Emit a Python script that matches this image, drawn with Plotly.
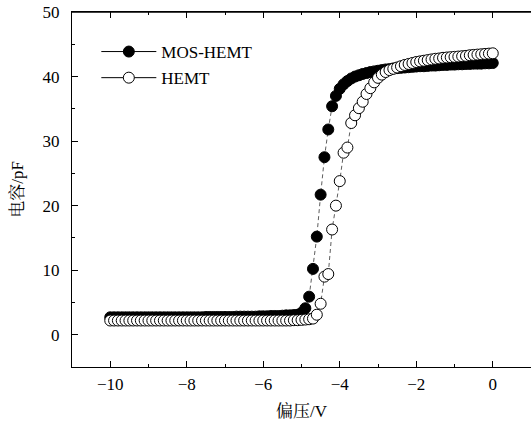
import plotly.graph_objects as go

voltage = [round(-10 + 0.1 * i, 1) for i in range(101)]

mos_hemt = [
    2.7, 2.7, 2.7, 2.7, 2.7, 2.7, 2.7, 2.7, 2.7, 2.7,
    2.7, 2.7, 2.7, 2.7, 2.7, 2.7, 2.7, 2.7, 2.7, 2.7,
    2.7, 2.7, 2.7, 2.7, 2.7, 2.75, 2.75, 2.75, 2.75, 2.75,
    2.75, 2.75, 2.75, 2.8, 2.8, 2.8, 2.8, 2.8, 2.8, 2.85,
    2.85, 2.85, 2.9, 2.9, 2.9, 2.95, 3.0, 3.0, 3.05, 3.1,
    3.4, 4.1, 5.9, 10.2, 15.2, 21.7, 27.5, 31.8, 35.4, 37.0,
    38.1, 38.8, 39.3, 39.7, 40.0, 40.2, 40.4, 40.55, 40.7, 40.8,
    40.9, 41.0, 41.1, 41.15, 41.25, 41.3, 41.35, 41.4, 41.45, 41.5,
    41.55, 41.6, 41.6, 41.65, 41.7, 41.7, 41.75, 41.8, 41.8, 41.85,
    41.85, 41.9, 41.9, 41.95, 41.95, 42.0, 42.0, 42.0, 42.05, 42.05, 42.1,
]

hemt = [
    2.2, 2.2, 2.2, 2.2, 2.2, 2.2, 2.2, 2.2, 2.2, 2.2,
    2.2, 2.2, 2.2, 2.2, 2.2, 2.2, 2.2, 2.2, 2.2, 2.2,
    2.2, 2.2, 2.2, 2.2, 2.2, 2.2, 2.2, 2.2, 2.2, 2.2,
    2.2, 2.2, 2.2, 2.2, 2.2, 2.2, 2.2, 2.2, 2.2, 2.2,
    2.2, 2.2, 2.2, 2.2, 2.2, 2.2, 2.2, 2.2, 2.25, 2.25,
    2.3, 2.35, 2.4, 2.5, 3.1, 4.8, 9.0, 9.4, 16.3, 20.0,
    23.8, 28.2, 29.0, 32.8, 34.0, 35.1, 36.1, 37.3, 38.2, 39.1,
    39.8, 40.3, 40.7, 41.0, 41.2, 41.4, 41.6, 41.8, 41.95, 42.1,
    42.25, 42.35, 42.45, 42.55, 42.65, 42.75, 42.8, 42.9, 42.95, 43.0,
    43.05, 43.1, 43.15, 43.2, 43.3, 43.35, 43.4, 43.45, 43.5, 43.55, 43.6,
]

series_names = ["MOS-HEMT", "HEMT"]
x_ticks = [-10, -8, -6, -4, -2, 0]
y_ticks = [0, 10, 20, 30, 40, 50]

FONT = "Liberation Serif, Times New Roman, Noto Serif CJK SC, Noto Sans CJK SC, serif"

fig = go.Figure()

styles = [
    dict(color="black", line=dict(color="black", width=1)),
    dict(color="white", line=dict(color="black", width=1)),
]

for name, ys, st in zip(series_names, [mos_hemt, hemt], styles):
    fig.add_trace(go.Scatter(
        x=voltage, y=ys, mode="lines+markers", name=name,
        line=dict(color="#333333", width=0.8, dash="4px,3px"),
        marker=dict(symbol="circle", size=11, **st),
        showlegend=False,
    ))

for i, (name, st) in enumerate(zip(series_names, styles)):
    fig.add_trace(go.Scatter(
        x=[None], y=[None], mode="lines+markers", name=name,
        line=dict(color="black", width=1),
        marker=dict(symbol="circle", size=11, **st),
        legendgroup=f"g{i}",
    ))

# top border of the plot frame
fig.add_shape(type="line", xref="paper", yref="paper", x0=0, x1=1, y0=1, y1=1,
              line=dict(color="black", width=1.6), layer="above")

fig.update_layout(
    width=531, height=429,
    margin=dict(l=72, r=0, t=12, b=62, autoexpand=False),
    paper_bgcolor="white", plot_bgcolor="white",
    font=dict(family=FONT, size=17, color="black"),
    showlegend=True,
    legend=dict(
        x=0.053, y=0.938, xanchor="left", yanchor="top",
        bgcolor="rgba(0,0,0,0)", borderwidth=0,
        font=dict(family=FONT, size=17, color="black"),
        tracegroupgap=1, itemsizing="trace", itemwidth=55,
    ),
    xaxis=dict(
        range=[-11, 1], tickvals=x_ticks, automargin=False,
        ticks="inside", ticklen=6, tickwidth=1, tickcolor="black",
        minor=dict(dtick=1, ticks="inside", ticklen=3, tickwidth=1, tickcolor="black"),
        showline=True, linecolor="black", linewidth=1.2, mirror="all",
        showgrid=False, zeroline=False,
        title=dict(text="偏压/V", font=dict(family=FONT, size=17, color="black"), standoff=12),
        ticklabelstandoff=1, ticklabeloverflow="allow",
    ),
    yaxis=dict(
        range=[-5, 50], tickvals=y_ticks, automargin=False,
        ticks="inside", ticklen=6, tickwidth=1, tickcolor="black",
        minor=dict(dtick=5, ticks="inside", ticklen=3, tickwidth=1, tickcolor="black"),
        showline=True, linecolor="black", linewidth=1.2, mirror=True,
        showgrid=False, zeroline=False,
        title=dict(text="电容/pF", font=dict(family=FONT, size=17, color="black"), standoff=14),
        ticklabelstandoff=8, ticklabeloverflow="allow",
    ),
)

fig.write_html(
    "out.html",
    config={"displayModeBar": False},
    post_script="document.body.style.margin='0';document.body.style.overflow='hidden';",
)
